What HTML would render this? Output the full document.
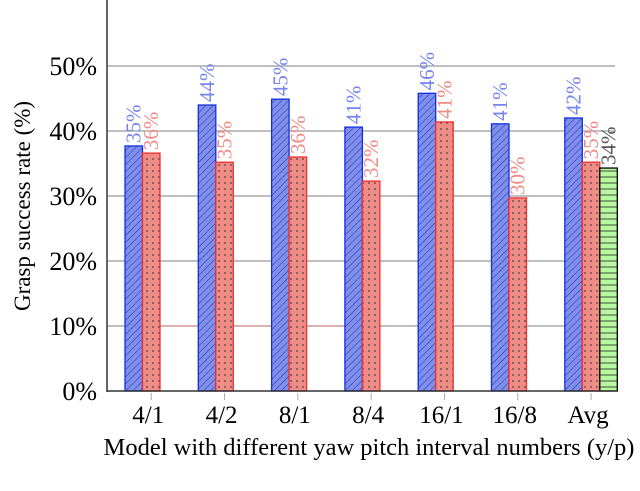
<!DOCTYPE html>
<html><head><meta charset="utf-8"><style>
html,body{margin:0;padding:0;background:#fff;width:640px;height:491px;overflow:hidden}
svg{display:block;font-family:"Liberation Serif",serif}
</style></head><body>
<svg id="chart" width="640" height="491" viewBox="0 0 640 491">
<defs>
<pattern id="hatch" patternUnits="userSpaceOnUse" width="5" height="5" patternTransform="rotate(45)"><line x1="0" y1="0" x2="0" y2="5" stroke="#2a3080" stroke-width="1"/></pattern>
<pattern id="dots" patternUnits="userSpaceOnUse" width="6" height="6"><circle cx="3" cy="3" r="0.9" fill="#444"/></pattern>
<pattern id="hlines" patternUnits="userSpaceOnUse" width="6" height="6"><line x1="0" y1="3" x2="6" y2="3" stroke="#222" stroke-width="0.8"/></pattern>
</defs>
<g id="grid"></g><g id="bars"></g><g id="axes"></g>
</svg>
<script>
const categories=["4/1","4/2","8/1","8/4","16/1","16/8","Avg"];
const seriesA=[37.7,44.0,44.9,40.6,45.8,41.1,42.0];
const seriesB=[36.6,35.2,36.0,32.3,41.4,29.7,35.2];
const seriesC=[null,null,null,null,null,null,34.3];
const labelsA=["35%","44%","45%","41%","46%","41%","42%"];
const labelsB=["36%","35%","36%","32%","41%","30%","35%"];
const labelsC=["","","","","","","34%"];
const yTicks=[0,10,20,30,40,50];

const NS="http://www.w3.org/2000/svg";
const y=v=>391-v*6.5;
const groupX=i=>125+i*73.3;
const BW=17.5;
function mk(tag,attrs,parent,text){const e=document.createElementNS(NS,tag);for(const k in attrs)e.setAttribute(k,attrs[k]);if(text!==undefined)e.textContent=text;parent.appendChild(e);return e;}
const grid=document.getElementById('grid'),bars=document.getElementById('bars'),axes=document.getElementById('axes');

yTicks.forEach(t=>{
  if(t>0){const l=mk('line',{x1:107,x2:615,y1:y(t),y2:y(t),stroke:'#999','stroke-width':1.2},grid);
  
  }
  const tx=mk('text',{x:97,y:y(t)+9,'text-anchor':'end','font-size':26,fill:'#000'},axes,t+'%');
  
  
});
mk('line',{x1:160,x2:345,y1:y(10),y2:y(10),stroke:'#f66','stroke-width':0.8,opacity:0.7},grid);

const series=[
 {vals:seriesA,labs:labelsA,fill:'#7f8ff0',pat:'url(#hatch)',stroke:'#1030e0',lc:'#7584f0',name:'blue'},
 {vals:seriesB,labs:labelsB,fill:'#f08c86',pat:'url(#dots)',stroke:'#f03030',lc:'#f08a85',name:'red'},
 {vals:seriesC,labs:labelsC,fill:'#b8f8a0',pat:'url(#hlines)',stroke:'#000',lc:'#555',name:'green'}
];
categories.forEach((c,i)=>{
  series.forEach((s,j)=>{
    const v=s.vals[i]; if(v===null)return;
    const x=groupX(i)+j*BW, top=y(v), h=391-top;
    const r=mk('rect',{x:x,y:top,width:BW,height:h,fill:s.fill},bars);
    
    
    mk('rect',{x:x,y:top,width:BW,height:h,fill:s.pat,stroke:s.stroke,'stroke-width':1.3},bars);
    const cx=x+BW/2+7, cy=top-3;
    const t=mk('text',{x:cx,y:cy,'font-size':21,fill:s.lc,transform:`rotate(-90 ${cx} ${cy})`},bars,s.labs[i]);
    
    
  });
  const tickX=groupX(i)+BW*1.5;
  mk('line',{x1:tickX,x2:tickX,y1:393,y2:400,stroke:'#aaa','stroke-width':1},axes);
  const tl=mk('text',{x:tickX-3,y:423,'text-anchor':'middle','font-size':25,fill:'#000'},axes,c);
  
  
});
mk('line',{x1:107,x2:107,y1:0,y2:392,stroke:'#333','stroke-width':1.5},axes);
mk('line',{x1:107,x2:612,y1:391,y2:391,stroke:'#333','stroke-width':1.5},axes);
const xt=mk('text',{x:369,y:455,'text-anchor':'middle','font-size':24.5,fill:'#000'},axes,'Model with different yaw pitch interval numbers (y/p)');


const yt=mk('text',{x:30,y:206,'text-anchor':'middle','font-size':23,fill:'#000',transform:'rotate(-90 30 206)'},axes,'Grasp success rate (%)');


</script>
</body></html>
